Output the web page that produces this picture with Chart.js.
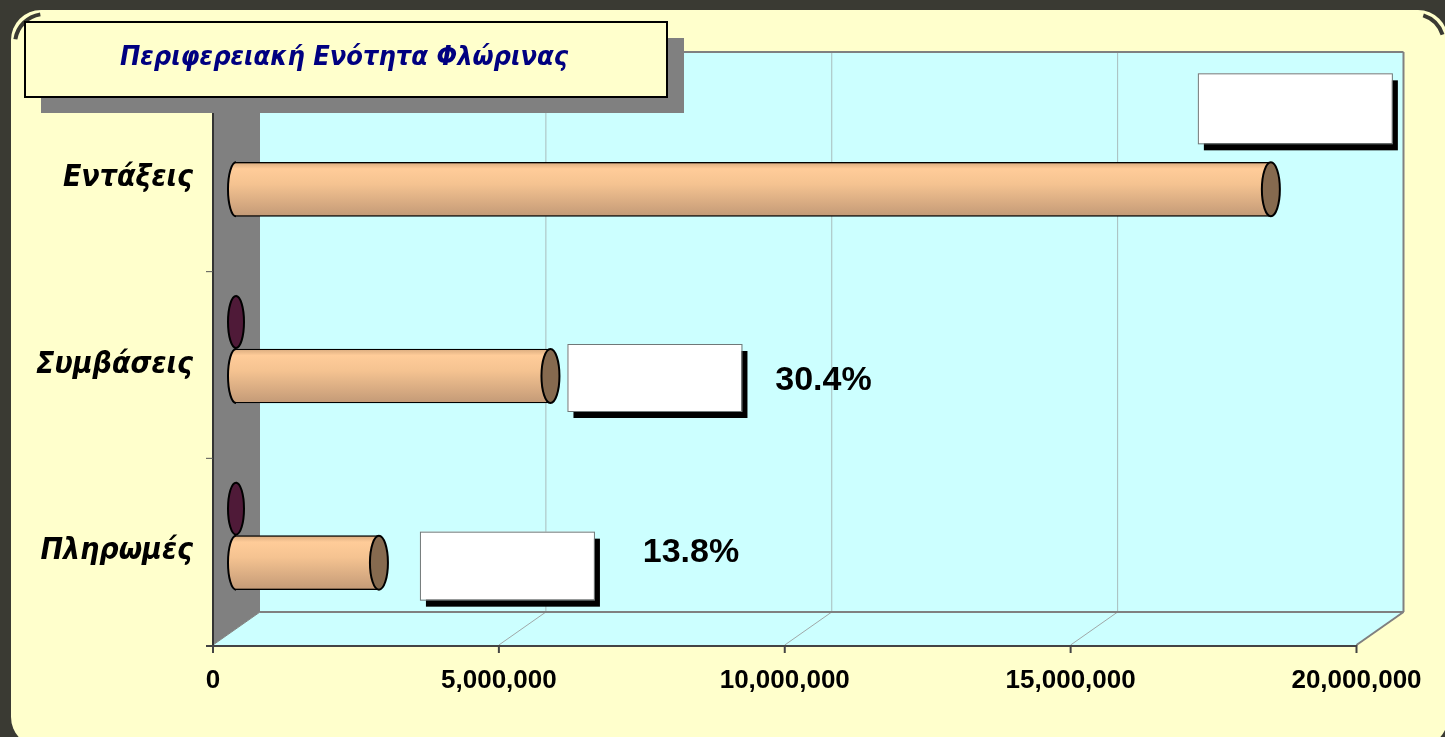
<!DOCTYPE html>
<html>
<head>
<meta charset="utf-8">
<script src="https://cdn.jsdelivr.net/npm/chart.js@4.4.1/dist/chart.umd.min.js"></script>
<style>
  body { margin: 0; background: #3a3a33; }
  canvas { display: block; }
</style>
</head>
<body>
<canvas id="grafica" width="1445" height="737"></canvas>
<script>
// datos
const titulo = 'Περιφερειακή Ενότητα Φλώρινας';
const categorias = ['Εντάξεις', 'Συμβάσεις', 'Πληρωμές'];
const valores = [18100000, 5500000, 2500000];
const valoresB = [null, 0, 0];
const porcentajes = ['', '30.4%', '13.8%'];
const ticksX = [0, 5000000, 10000000, 15000000, 20000000];

// efecto 3d: desplazamiento de la cara frontal y del fondo
const FRENTE = { x: -23, y: 16 };
const FONDO = { x: 24, y: -17 };

// cajas blancas de etiquetas, relativas al final de cada barra
const cajas = [
  { dx: -73, dy: -116, w: 194, h: 70, tx: 0, ty: 0 },
  { dx: 17, dy: -32, w: 174, h: 67, tx: 273, ty: 5 },
  { dx: 41, dy: -31, w: 174, h: 68, tx: 312, ty: -10 }
];

function poligono(ctx, pts, relleno, borde, ancho) {
  ctx.beginPath();
  ctx.moveTo(pts[0][0], pts[0][1]);
  for (let i = 1; i < pts.length; i++) ctx.lineTo(pts[i][0], pts[i][1]);
  ctx.closePath();
  if (relleno) { ctx.fillStyle = relleno; ctx.fill(); }
  if (borde) { ctx.strokeStyle = borde; ctx.lineWidth = ancho || 1; ctx.stroke(); }
}

function linea(ctx, x1, y1, x2, y2, color, ancho) {
  ctx.beginPath();
  ctx.moveTo(x1, y1);
  ctx.lineTo(x2, y2);
  ctx.strokeStyle = color;
  ctx.lineWidth = ancho;
  ctx.stroke();
}

const fondo3d = {
  id: 'fondo3d',
  beforeDraw(chart) {
    const { ctx, chartArea: a, scales: { x } } = chart;
    ctx.save();
    ctx.fillStyle = '#3a3a33';
    ctx.fillRect(0, 0, chart.width, chart.height);
    ctx.fillStyle = '#ffffcc';
    ctx.beginPath();
    ctx.roundRect(11, 10, 1437, 737, 30);
    ctx.fill();
    // sombra de las esquinas
    ctx.strokeStyle = '#3a3a33';
    ctx.lineWidth = 4;
    ctx.beginPath();
    ctx.arc(45, 44, 30, Math.PI * 1.05, Math.PI * 1.45);
    ctx.stroke();
    ctx.beginPath();
    ctx.arc(1414, 44, 30, Math.PI * 1.6, Math.PI * 1.9);
    ctx.stroke();

    const bl = a.left + FONDO.x, bt = a.top + FONDO.y, br = a.right + FONDO.x, bb = a.bottom + FONDO.y;
    const fl = a.left + FRENTE.x, ft = a.top + FRENTE.y, fr = a.right + FRENTE.x, fb = a.bottom + FRENTE.y;

    // pared del fondo
    ctx.fillStyle = '#ccffff';
    ctx.fillRect(bl, bt, br - bl, bb - bt);
    // pared izquierda
    poligono(ctx, [[fl, ft], [bl, bt], [bl, bb], [fl, fb]], '#808080');
    // piso
    poligono(ctx, [[fl, fb], [fr, fb], [br, bb], [bl, bb]], '#ccffff');

    // lineas de division
    ticksX.forEach(v => {
      const px = x.getPixelForValue(v);
      if (v > 0 && v < ticksX[ticksX.length - 1]) {
        linea(ctx, px + FONDO.x, bt, px + FONDO.x, bb, '#a9bcbc', 1);
      }
      if (v > 0) linea(ctx, px + FRENTE.x, fb, px + FONDO.x, bb, '#a0a8a8', 1);
    });

    // bordes
    linea(ctx, bl, bt, br, bt, '#808080', 2);
    linea(ctx, br, bt, br, bb, '#808080', 2);
    linea(ctx, bl, bb, br, bb, '#808080', 2);
    linea(ctx, fr, fb, br, bb, '#808080', 2);
    linea(ctx, fl, fb, bl, bb, '#808080', 1);

    // ejes
    linea(ctx, fl, ft, fl, fb + 1, '#333333', 2);
    linea(ctx, fl - 7, fb + 1, fr, fb + 1, '#444444', 2);
    ticksX.forEach(v => {
      const px = x.getPixelForValue(v) + FRENTE.x;
      linea(ctx, px, fb, px, fb + 8, '#444444', 2);
    });
    const paso = (a.bottom - a.top) / categorias.length;
    for (let i = 1; i < categorias.length; i++) {
      const py = a.top + paso * i + FRENTE.y;
      linea(ctx, fl - 7, py, fl, py, '#555555', 1);
    }

    // titulo
    ctx.fillStyle = '#808080';
    ctx.fillRect(41, 38, 643, 75);
    ctx.fillStyle = '#ffffcc';
    ctx.fillRect(25, 22, 642, 75);
    ctx.strokeStyle = '#000';
    ctx.lineWidth = 2;
    ctx.strokeRect(25, 22, 642, 75);
    ctx.fillStyle = '#000080';
    ctx.font = 'oblique bold 27px "DejaVu Sans Condensed"';
    ctx.textAlign = 'center';
    ctx.textBaseline = 'middle';
    ctx.fillText(titulo, 344, 58);
    ctx.restore();
  },
  afterDatasetsDraw(chart) {
    const { ctx } = chart;
    ctx.save();
    ctx.lineWidth = 2;
    ctx.strokeStyle = '#000';

    const metaB = chart.getDatasetMeta(0);
    metaB.data.forEach((bar, i) => {
      if (valoresB[i] == null) return;
      ctx.beginPath();
      ctx.ellipse(bar.x, bar.y, 8, bar.height / 2 - 1, 0, 0, Math.PI * 2);
      ctx.fillStyle = '#4f1a38';
      ctx.fill();
      ctx.stroke();
    });

    const meta = chart.getDatasetMeta(1);
    meta.data.forEach((bar, i) => {
      const h = bar.height;
      const arriba = bar.y - h / 2;
      const g = ctx.createLinearGradient(0, arriba, 0, arriba + h);
      g.addColorStop(0, '#d9ab7e');
      g.addColorStop(0.12, '#ffcc99');
      g.addColorStop(0.4, '#f5c391');
      g.addColorStop(1, '#c39a77');
      ctx.fillStyle = g;
      ctx.fillRect(bar.base, arriba + 1, bar.x - bar.base, h - 2);
      // inicio redondeado
      ctx.beginPath();
      ctx.ellipse(bar.base, bar.y, 8, h / 2, 0, Math.PI / 2, Math.PI * 1.5);
      ctx.fill();
      ctx.stroke();
      // tapa final
      ctx.beginPath();
      ctx.ellipse(bar.x, bar.y, 9, h / 2, 0, 0, Math.PI * 2);
      ctx.fillStyle = '#866a4f';
      ctx.fill();
      ctx.stroke();

      // cajas y porcentajes
      const c = cajas[i];
      const bx = bar.x + c.dx, by = bar.y + c.dy;
      ctx.fillStyle = '#000';
      ctx.fillRect(bx + 6, by + 7, c.w, c.h);
      ctx.fillStyle = '#fff';
      ctx.fillRect(bx, by, c.w, c.h);
      ctx.lineWidth = 1;
      ctx.strokeStyle = '#707878';
      ctx.strokeRect(bx + 0.5, by + 0.5, c.w, c.h);
      ctx.lineWidth = 2;
      ctx.strokeStyle = '#000';
      if (porcentajes[i]) {
        ctx.fillStyle = '#000';
        ctx.font = 'bold 34px "Liberation Sans"';
        ctx.textAlign = 'center';
        ctx.textBaseline = 'middle';
        ctx.fillText(porcentajes[i], bar.x + c.tx, bar.y + c.ty);
      }
    });
    ctx.restore();
  }
};

let grafica = document.getElementById('grafica').getContext('2d');
let chart = new Chart(grafica, {
  type: 'bar',
  data: {
    labels: categorias,
    datasets: [
      {
        label: 'B',
        data: valoresB,
        backgroundColor: '#4f1a38',
        borderWidth: 0,
        barThickness: 54
      },
      {
        label: 'A',
        data: valores,
        backgroundColor: '#f0c090',
        borderColor: '#000',
        borderWidth: 2,
        borderSkipped: 'start',
        barThickness: 54
      }
    ]
  },
  options: {
    indexAxis: 'y',
    responsive: false,
    animation: false,
    layout: { padding: { top: 69, right: 65.5, left: 0, bottom: 0 } },
    plugins: { legend: { display: false }, tooltip: { enabled: false } },
    scales: {
      x: {
        min: 0,
        max: 20000000,
        afterBuildTicks: s => { s.ticks = ticksX.map(v => ({ value: v })); },
        grid: { display: false, drawTicks: false },
        border: { display: false },
        ticks: {
          labelOffset: FRENTE.x,
          padding: 36,
          color: '#000',
          maxRotation: 0,
          autoSkip: false,
          font: { family: 'Liberation Sans', size: 26, weight: 'bold' },
          callback: v => Number(v).toLocaleString('en-US')
        },
        afterFit: s => { s.height = 108; s.paddingLeft = 0; s.paddingRight = 0; }
      },
      y: {
        grid: { display: false, drawTicks: false },
        border: { display: false },
        ticks: {
          labelOffset: FRENTE.y,
          padding: 43,
          color: '#000',
          font: { family: 'DejaVu Sans Condensed', size: 30, weight: 'bold', style: 'italic' }
        },
        afterFit: s => { s.width = 236; s.paddingTop = 0; s.paddingBottom = 0; }
      }
    }
  },
  plugins: [fondo3d]
});
</script>
</body>
</html>
